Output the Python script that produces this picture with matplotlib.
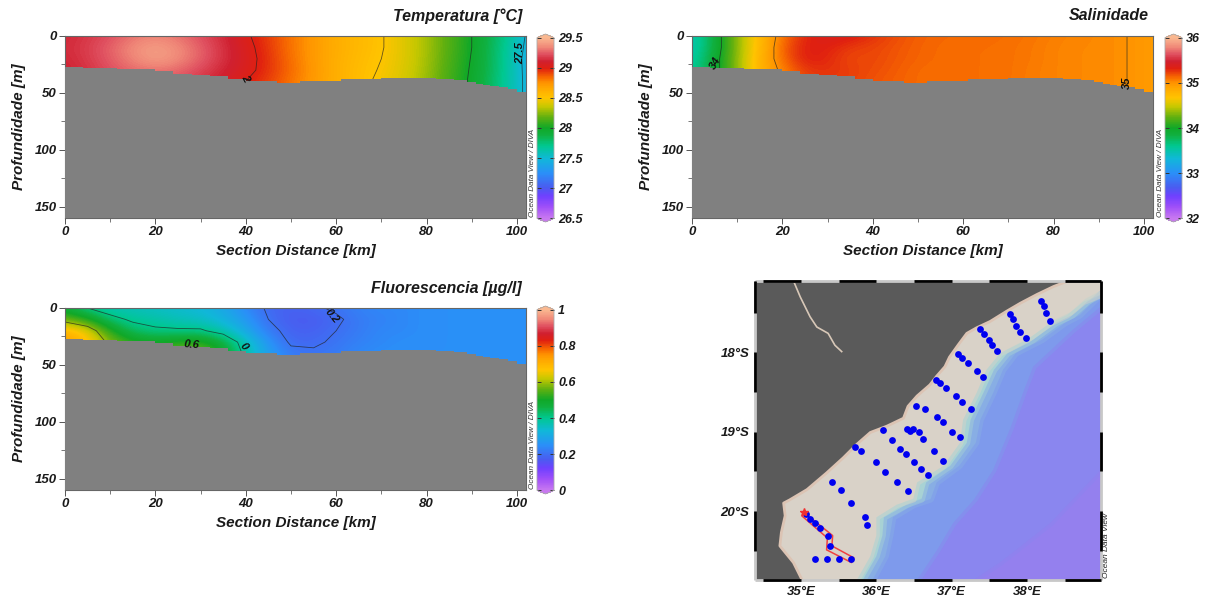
import numpy as np
import matplotlib
matplotlib.use('Agg')
import matplotlib.pyplot as plt
from matplotlib.colors import LinearSegmentedColormap, Normalize
from matplotlib.cm import ScalarMappable

plt.rcParams['font.family'] = ['Liberation Sans', 'DejaVu Sans']

W, H = 1205, 596

# section data, last column sits just past the end of the axis
dist = [0, 5, 10, 15, 20, 25, 30, 35, 40, 45, 50, 55, 60, 65, 70, 75, 80, 85, 90, 95, 100, 105]
depth = [0, 10, 20, 30, 40, 50]

temp = [
    [29.12, 29.16, 29.22, 29.30, 29.34, 29.30, 29.22, 29.13, 29.02, 28.93, 28.82, 28.72, 28.62, 28.56, 28.51, 28.42, 28.30, 28.15, 28.00, 27.82, 27.60, 27.32],
    [29.13, 29.18, 29.26, 29.36, 29.42, 29.36, 29.26, 29.15, 29.04, 28.94, 28.82, 28.72, 28.63, 28.56, 28.51, 28.42, 28.30, 28.15, 28.00, 27.80, 27.58, 27.30],
    [29.12, 29.17, 29.25, 29.34, 29.42, 29.36, 29.26, 29.15, 29.05, 28.95, 28.83, 28.72, 28.62, 28.55, 28.50, 28.42, 28.30, 28.14, 27.99, 27.80, 27.56, 27.28],
    [29.10, 29.15, 29.22, 29.28, 29.30, 29.28, 29.20, 29.12, 29.04, 28.95, 28.84, 28.73, 28.62, 28.54, 28.49, 28.41, 28.29, 28.13, 27.98, 27.80, 27.56, 27.30],
    [29.10, 29.14, 29.20, 29.24, 29.25, 29.22, 29.16, 29.08, 29.00, 28.92, 28.82, 28.72, 28.62, 28.54, 28.47, 28.40, 28.28, 28.12, 27.97, 27.78, 27.56, 27.32],
    [29.10, 29.14, 29.20, 29.24, 29.25, 29.22, 29.16, 29.08, 29.00, 28.92, 28.82, 28.72, 28.62, 28.54, 28.47, 28.40, 28.28, 28.12, 27.97, 27.78, 27.56, 27.32],
]
sal = [
    [33.45, 33.85, 34.35, 34.75, 35.10, 35.30, 35.38, 35.35, 35.27, 35.20, 35.15, 35.13, 35.12, 35.12, 35.11, 35.09, 35.06, 35.04, 35.03, 35.01, 34.97, 34.92],
    [33.45, 33.85, 34.35, 34.75, 35.15, 35.33, 35.32, 35.24, 35.22, 35.18, 35.14, 35.12, 35.11, 35.11, 35.10, 35.08, 35.05, 35.03, 35.03, 35.01, 34.97, 34.92],
    [33.50, 33.90, 34.35, 34.80, 35.12, 35.34, 35.30, 35.20, 35.22, 35.17, 35.14, 35.12, 35.11, 35.11, 35.10, 35.08, 35.05, 35.03, 35.03, 35.01, 34.97, 34.92],
    [33.55, 33.90, 34.35, 34.80, 35.05, 35.25, 35.27, 35.24, 35.20, 35.16, 35.12, 35.11, 35.11, 35.11, 35.10, 35.07, 35.05, 35.03, 35.03, 35.01, 34.97, 34.92],
    [33.55, 33.90, 34.35, 34.80, 35.05, 35.22, 35.25, 35.23, 35.18, 35.15, 35.12, 35.11, 35.11, 35.11, 35.10, 35.07, 35.05, 35.03, 35.03, 35.01, 34.97, 34.92],
    [33.55, 33.90, 34.35, 34.80, 35.05, 35.22, 35.25, 35.23, 35.18, 35.15, 35.12, 35.11, 35.11, 35.11, 35.10, 35.07, 35.05, 35.03, 35.03, 35.01, 34.97, 34.92],
]
fluo = [
    [0.47, 0.40, 0.37, 0.36, 0.35, 0.34, 0.33, 0.30, 0.24, 0.19, 0.18, 0.19, 0.21, 0.23, 0.24, 0.24, 0.25, 0.25, 0.25, 0.25, 0.25, 0.25],
    [0.57, 0.52, 0.42, 0.39, 0.38, 0.36, 0.35, 0.32, 0.27, 0.20, 0.17, 0.17, 0.19, 0.22, 0.23, 0.24, 0.25, 0.25, 0.25, 0.25, 0.25, 0.25],
    [0.70, 0.65, 0.52, 0.43, 0.41, 0.41, 0.41, 0.37, 0.30, 0.22, 0.18, 0.18, 0.20, 0.22, 0.24, 0.24, 0.25, 0.25, 0.25, 0.25, 0.25, 0.25],
    [0.74, 0.68, 0.58, 0.52, 0.50, 0.52, 0.53, 0.47, 0.36, 0.26, 0.19, 0.19, 0.21, 0.23, 0.24, 0.25, 0.25, 0.25, 0.25, 0.25, 0.25, 0.25],
    [0.74, 0.68, 0.58, 0.54, 0.54, 0.58, 0.58, 0.50, 0.38, 0.28, 0.22, 0.21, 0.22, 0.24, 0.25, 0.25, 0.25, 0.25, 0.25, 0.25, 0.25, 0.25],
    [0.74, 0.68, 0.58, 0.54, 0.54, 0.58, 0.58, 0.50, 0.38, 0.28, 0.22, 0.21, 0.22, 0.24, 0.25, 0.25, 0.25, 0.25, 0.25, 0.25, 0.25, 0.25],
]

# stepped sea floor along the section
bot_x = [0, 4, 11.5, 20, 24, 28, 32, 36, 40, 47, 52, 61, 70, 82, 86, 89, 91, 92.5, 94, 96, 98, 100, 102]
bot_z = [27, 28, 29, 31, 33, 34, 35, 38, 39.5, 41, 39.5, 38, 37, 38, 39, 40, 42, 43, 44, 45, 47, 49, 51]

# map data
st_lon = [38.19, 38.22, 38.25, 38.30, 37.77, 37.81, 37.85, 37.91, 37.98, 37.37, 37.43, 37.49, 37.53, 37.60,
          37.08, 37.14, 37.21, 37.34, 37.42, 36.79, 36.84, 36.92, 37.06, 37.14, 37.25, 36.52, 36.64, 36.81,
          36.88, 37.00, 37.11, 36.09, 36.41, 36.44, 36.49, 36.57, 36.62, 36.77, 36.88, 36.21, 36.31, 36.39,
          36.50, 36.59, 36.68, 35.72, 35.79, 35.99, 36.12, 36.27, 36.42, 35.41, 35.53, 35.67, 35.85, 35.88,
          35.07, 35.12, 35.19, 35.25, 35.36, 35.38, 35.66, 35.19, 35.35, 35.51]
st_lat = [17.35, 17.41, 17.50, 17.60, 17.51, 17.58, 17.67, 17.74, 17.82, 17.71, 17.77, 17.84, 17.91, 17.98,
          18.02, 18.07, 18.13, 18.23, 18.31, 18.35, 18.38, 18.45, 18.55, 18.63, 18.71, 18.67, 18.71, 18.82,
          18.88, 19.01, 19.07, 18.98, 18.97, 18.99, 18.97, 19.01, 19.09, 19.24, 19.37, 19.10, 19.22, 19.28,
          19.38, 19.47, 19.55, 19.19, 19.24, 19.38, 19.51, 19.64, 19.75, 19.64, 19.74, 19.90, 20.07, 20.18,
          20.04, 20.10, 20.15, 20.21, 20.32, 20.44, 20.61, 20.60, 20.60, 20.60]

sec_lon = [35.03, 35.42, 35.41, 35.70, 35.67, 35.34, 35.35, 35.01, 35.03]
sec_lat = [20.01, 20.31, 20.44, 20.59, 20.65, 20.49, 20.34, 20.06, 20.01]

coast_lon = [38.57, 38.35, 38.13, 37.91, 37.73, 37.51, 37.33, 37.20, 37.09, 36.97, 36.91, 36.80, 36.71, 36.54,
             36.42, 36.36, 36.14, 35.92, 35.74, 35.56, 35.34, 35.08, 34.85, 34.77, 34.79, 34.74, 34.72, 34.90, 35.01]
coast_lat = [17.09, 17.17, 17.27, 17.38, 17.48, 17.61, 17.69, 17.76, 17.90, 18.06, 18.18, 18.30, 18.41, 18.55,
             18.68, 18.83, 18.93, 19.01, 19.16, 19.33, 19.52, 19.73, 19.86, 19.90, 20.06, 20.27, 20.44, 20.65, 20.86]

river_lon = [34.91, 34.99, 35.12, 35.21, 35.36, 35.45, 35.54]
river_lat = [17.12, 17.30, 17.55, 17.68, 17.76, 17.91, 17.99]

edge_lat = [17.27, 17.36, 17.53, 17.63, 17.84, 18.01, 18.22, 18.51, 18.85, 19.14, 19.43, 19.64, 19.85, 19.92, 20.08, 20.31, 20.57, 20.87]
iso1_lon = [38.98, 38.75, 38.53, 38.31, 38.00, 37.64, 37.46, 37.33, 37.15, 37.11, 36.89, 36.54, 36.49, 36.27, 36.00, 36.00, 35.92, 35.74]
iso2_lon = [38.98, 38.80, 38.60, 38.38, 38.08, 37.74, 37.56, 37.42, 37.25, 37.20, 36.98, 36.66, 36.60, 36.40, 36.10, 36.08, 36.00, 35.82]
iso3_lon = [38.98, 38.88, 38.70, 38.50, 38.20, 37.85, 37.68, 37.55, 37.38, 37.32, 37.10, 36.80, 36.72, 36.50, 36.22, 36.18, 36.12, 35.95]
iso4_lon = [38.98, 38.60, 38.08, 37.95, 37.78, 37.55, 37.30, 37.02, 36.80, 36.54]
iso4_lat = [17.42, 17.72, 18.18, 18.50, 18.95, 19.48, 19.85, 20.15, 20.50, 20.87]
iso5_lon = [38.98, 38.31, 37.95, 37.64, 37.29]
iso5_lat = [19.48, 20.15, 20.42, 20.65, 20.87]

odv = LinearSegmentedColormap.from_list('odv', [
    (0.00, '#c878f0'), (0.06, '#a050f8'), (0.12, '#7040ff'), (0.17, '#4a5cf0'),
    (0.25, '#2a90f8'), (0.33, '#10b8d8'), (0.40, '#00c890'), (0.46, '#10b040'),
    (0.50, '#10a828'), (0.56, '#60b010'), (0.62, '#c8c800'), (0.667, '#ffc400'),
    (0.72, '#ffa800'), (0.75, '#ff9400'), (0.78, '#f86c00'), (0.83, '#e02010'),
    (0.87, '#d02030'), (0.91, '#e05060'), (0.95, '#f08878'), (1.00, '#fab890')])
odv.set_under('#c878f0')
odv.set_over('#fab890')


def px_axes(x0, x1, y0, y1):
    return fig.add_axes([x0/W, 1-y1/H, (x1-x0)/W, (y1-y0)/H])


def lab(**kw):
    return dict(fontweight='bold', fontstyle='italic', color='#1a1a1a', **kw)


def section(box, cbox, field, vmin, vmax, cticks, clevels, title, title_x, odv_x):
    ax = px_axes(*box)
    # half a cell around the grid so imshow puts the samples on dist/depth
    ax.imshow(field, extent=(dist[0]-2.5, dist[-1]+2.5, depth[-1]+5, depth[0]-5), aspect='auto',
              cmap=odv, vmin=vmin, vmax=vmax, interpolation='bicubic')
    ax.contour(dist, depth, field, levels=clevels, colors='#222222', linewidths=0.6, alpha=0.7)
    ax.fill_between(bot_x, bot_z, 160, step='post', color='#808080', lw=0, zorder=3)
    ax.set_xlim(0, 102)
    ax.set_ylim(160, 0)
    ax.set_xticks([0, 20, 40, 60, 80, 100])
    ax.set_xticks([10, 30, 50, 70, 90], minor=True)
    ax.set_yticks([0, 50, 100, 150])
    ax.set_yticks([25, 75, 125], minor=True)
    ax.tick_params(length=4, width=0.7, color='#555555', pad=2)
    ax.tick_params(which='minor', length=3, width=0.7, color='#777777')
    for t in ax.get_xticklabels() + ax.get_yticklabels():
        t.set(fontsize=9.5, **lab())
    for s in ax.spines.values():
        s.set_color('#666666')
        s.set_linewidth(0.8)
    ax.set_xlabel('Section Distance [km]', fontsize=11, labelpad=4, **lab())
    ax.set_ylabel('Profundidade [m]', fontsize=11, labelpad=6, **lab())
    fig.text(title_x/W, 1-(box[2]-20)/H, title, fontsize=11.5, ha='right', va='center', **lab())

    cax = px_axes(*cbox)
    sm = ScalarMappable(Normalize(vmin, vmax), odv)
    cb = fig.colorbar(sm, cax=cax, extend='both', extendfrac=0.02)
    cb.set_ticks(cticks)
    cb.set_ticklabels([('%g' % c) for c in cticks])
    cb.ax.tick_params(length=3, width=0.7, direction='in', left=True, right=True, color='#333333', pad=3)
    for t in cb.ax.get_yticklabels():
        t.set(fontsize=9, **lab())
    cb.outline.set_edgecolor('#aaaaaa')
    cb.outline.set_linewidth(0.6)
    fig.text(odv_x/W, 1-(box[3]-1)/H, 'Ocean Data View / DIVA', fontsize=5.9, rotation=90,
             fontstyle='italic', color='#333333', ha='center', va='bottom')
    return ax


fig = plt.figure(figsize=(W/100, H/100), dpi=100)

ax1 = section((65, 526, 36, 218), (537, 554, 34, 222), temp, 26.5, 29.5,
              [26.5, 27, 27.5, 28, 28.5, 29, 29.5], [27.5, 28, 28.5, 29],
              'Temperatura [°C]', 522, 533)
ax2 = section((692, 1153, 36, 218), (1165, 1182, 34, 222), sal, 32, 36,
              [32, 33, 34, 35, 36], [34, 35],
              'Salinidade', 1149, 1161)
ax3 = section((65, 526, 308, 490), (537, 554, 306, 494), fluo, 0, 1,
              [0, 0.2, 0.4, 0.6, 0.8, 1], [0.2, 0.4, 0.6],
              'Fluorescencia [µg/l]', 522, 533)

clab = dict(fontsize=8, fontweight='bold', fontstyle='italic', color='#111111', ha='center', va='center', zorder=4)
ax1.text(100.8, 15, '27.5', rotation=90, **clab)
ax1.text(40, 37, '2', rotation=-60, **clab)
ax2.text(5.2, 23.5, '34', rotation=60, **clab)
ax2.text(96.2, 41, '35', rotation=90, **clab)
ax3.text(28, 32, '0.6', rotation=-5, **clab)
ax3.text(39.5, 33.5, '0', rotation=-50, **clab)
ax3.text(59, 7, '0.2', rotation=-50, **clab)

# map panel
m = px_axes(755, 1101, 281, 580)
lon0, lon1 = 34.39, 38.98
lat0, lat1 = 17.10, 20.87
m.set_facecolor('#9480ee')
bands = [(iso5_lon, iso5_lat, '#8a86ef'), (iso4_lon, iso4_lat, '#7e9aec'), (iso3_lon, edge_lat, '#88aee4'),
         (iso2_lon, edge_lat, '#a8d2d4'), (iso1_lon, edge_lat, '#d9d2c8')]
for blon, blat, col in bands:
    m.plot(blon, blat, color=col, lw=5, alpha=0.45)
    m.fill(blon + [lon0, lon0, lon1], blat + [lat1, lat0, lat0], color=col, lw=0)
m.plot(coast_lon, coast_lat, color='#dcc4b4', lw=2)
m.fill(coast_lon + [lon0, lon0], coast_lat + [lat1, lat0], color='#5a5a5a', lw=0)
m.plot(river_lon, river_lat, color='#d8c8b8', lw=1.2)
m.plot(sec_lon, sec_lat, color='#f04040', lw=1.1)
m.scatter(st_lon, st_lat, s=24, color='#0000f0', lw=0, zorder=5)
m.plot(st_lon[56] - 0.03, st_lat[56] - 0.03, marker='*', color='#f03030', ms=6, zorder=6)
m.set_xlim(lon0, lon1)
m.set_ylim(lat1, lat0)
m.set_xticks([35, 36, 37, 38])
m.set_xticklabels(['35°E', '36°E', '37°E', '38°E'])
m.set_yticks([18, 19, 20])
m.set_yticklabels(['18°S', '19°S', '20°S'])
m.tick_params(length=0, pad=4)
for t in m.get_xticklabels() + m.get_yticklabels():
    t.set(fontsize=9.5, **lab())
for s in m.spines.values():
    s.set_visible(False)

# alternating frame bars
fr = dict(clip_on=False, lw=2, solid_capstyle='butt')
for la in [lat0, lat1]:
    m.plot([lon0, lon1], [la, la], color='#c8c8c8', zorder=7, **fr)
    for a in [34.5, 35.5, 36.5, 37.5, 38.5]:
        m.plot([a, min(a + 0.5, lon1)], [la, la], color='black', zorder=8, **fr)
for lo in [lon0, lon1]:
    m.plot([lo, lo], [lat0, lat1], color='#c8c8c8', zorder=7, **fr)
    for a, b in [(17.1, 17.5), (18, 18.5), (19, 19.5), (20, 20.5)]:
        m.plot([lo, lo], [a, b], color='black', zorder=8, **fr)

fig.text(1107/W, 1-578/H, 'Ocean Data View', fontsize=6, rotation=90, fontstyle='italic',
         color='#222222', ha='center', va='bottom')

fig.savefig('out.png', dpi=100)
